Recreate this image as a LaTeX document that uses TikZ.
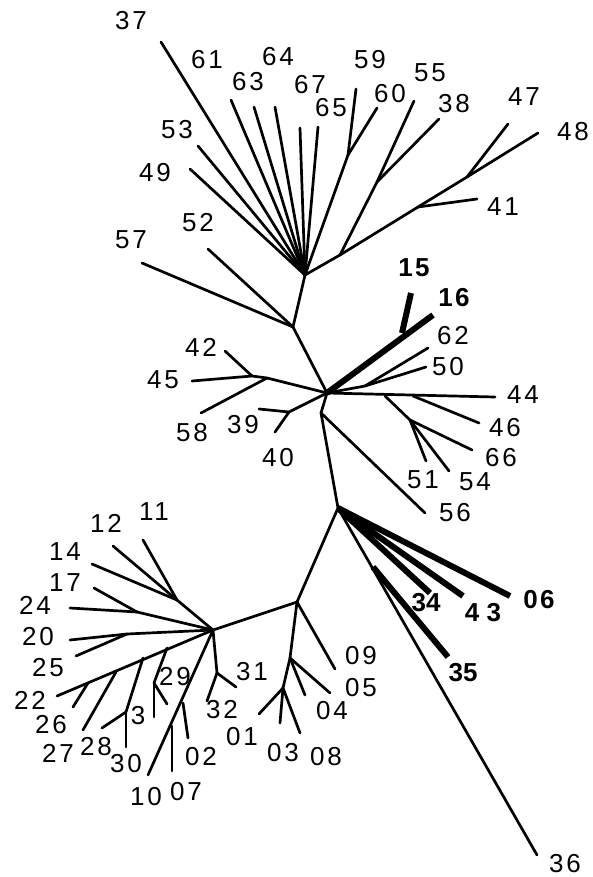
\documentclass[tikz,border=0pt]{standalone}
\usepackage{fontspec}
\setmainfont{Liberation Sans}
\newfontfamily\labfont[LetterSpace=11]{Liberation Sans}
\newfontfamily\labfontb[LetterSpace=9]{Liberation Sans Bold}
\newfontfamily\labfontbt{Liberation Sans Bold}
\begin{document}
\begin{tikzpicture}[x=1pt,y=-1pt,
  br/.style={line width=2.7pt,line cap=round,line join=round},
  thk/.style={line width=6pt,line join=round},
  lab/.style={font=\labfont\fontsize{26}{26}\selectfont,inner sep=0pt},
  labb/.style={font=\labfontb\fontsize{26}{26}\selectfont,inner sep=0pt},
  labbt/.style={font=\labfontbt\fontsize{26}{26}\selectfont,inner sep=0pt}]
\useasboundingbox[fill=white] (0,0) rectangle (592,877);
% ---------- coordinates ----------
\coordinate (H1) at (305,275);
\coordinate (l37) at (161,42);
\coordinate (l61) at (231,100);
\coordinate (l63) at (254,107);
\coordinate (l64) at (275,107);
\coordinate (l67) at (300,128);
\coordinate (l65) at (318,127);
\coordinate (l53) at (198,146);
\coordinate (l49) at (190,169);
\coordinate (n5960) at (348,155);
\coordinate (l59) at (356,89);
\coordinate (l60) at (377,108);
\coordinate (A) at (340,255);
\coordinate (n5538) at (377,182);
\coordinate (l55) at (414,101);
\coordinate (l38) at (439,119);
\coordinate (B) at (418,207);
\coordinate (l41) at (477,199);
\coordinate (C) at (467,177);
\coordinate (l47) at (508,124);
\coordinate (l48) at (538,133);
\coordinate (N2) at (293,327);
\coordinate (l57) at (142,263);
\coordinate (l52) at (208,249);
\coordinate (H2) at (327,393);
\coordinate (P) at (267,378);
\coordinate (l58) at (201,413);
\coordinate (Q) at (252,376);
\coordinate (l45) at (192,381);
\coordinate (l42) at (225,351);
\coordinate (n3940) at (289,412);
\coordinate (l39) at (259,409);
\coordinate (l40) at (275,432);
\coordinate (n1516) at (402,333);
\coordinate (l15) at (411,293);
\coordinate (l16) at (433,315);
\coordinate (n6250) at (365,386);
\coordinate (l62) at (428,348);
\coordinate (l50) at (426,367);
\coordinate (l44) at (495,397);
\coordinate (n44a) at (385,396);
\coordinate (n46) at (413,396);
\coordinate (l46) at (479,423);
\coordinate (D) at (410,420);
\coordinate (l66) at (472,450);
\coordinate (l51) at (426,461);
\coordinate (l54) at (449,471);
\coordinate (T) at (321,413);
\coordinate (l56) at (425,513);
\coordinate (H3) at (338,508);
\coordinate (l06) at (510,596);
\coordinate (l43) at (463,596);
\coordinate (l34) at (430,593);
\coordinate (l36) at (537,855);
\coordinate (n35) at (373,567);
\coordinate (l35) at (448,657);
\coordinate (E) at (297,602);
\coordinate (F) at (290,658);
\coordinate (l04) at (305,695);
\coordinate (l05) at (330,693);
\coordinate (G) at (283,688);
\coordinate (l01) at (259,714);
\coordinate (l03) at (280,723);
\coordinate (l08) at (300,733);
\coordinate (l09) at (335,669);
\coordinate (H4) at (213,630);
\coordinate (n11) at (177,600);
\coordinate (l11) at (143,540);
\coordinate (l12) at (113,546);
\coordinate (l14) at (92,564);
\coordinate (K) at (137,612);
\coordinate (l17) at (94,588);
\coordinate (l24) at (70,608);
\coordinate (L) at (127,634);
\coordinate (l20) at (70,640);
\coordinate (l25) at (76,656);
\coordinate (l22) at (57,696);
\coordinate (n26) at (88,683);
\coordinate (l26) at (73,707);
\coordinate (n27) at (116,672);
\coordinate (l27) at (83,730);
\coordinate (n28) at (143,658);
\coordinate (M) at (126,712);
\coordinate (l28) at (102,728);
\coordinate (l30) at (126,747);
\coordinate (n29) at (167,648);
\coordinate (N29) at (154,683);
\coordinate (l29a) at (154,717);
\coordinate (l29b) at (167,704);
\coordinate (l10) at (148,775);
\coordinate (n02) at (183,703);
\coordinate (l02) at (188,738);
\coordinate (n07) at (172,726);
\coordinate (l07) at (172,771);
\coordinate (n3132) at (217,673);
\coordinate (l31) at (236,687);
\coordinate (l32) at (207,701);
% ---------- branches ----------
\draw[br] (H1) -- (l37);
\draw[br] (H1) -- (l61);
\draw[br] (H1) -- (l63);
\draw[br] (H1) -- (l64);
\draw[br] (H1) -- (l67);
\draw[br] (H1) -- (l65);
\draw[br] (H1) -- (l53);
\draw[br] (H1) -- (l49);
\draw[br] (H1) -- (n5960);
\draw[br] (n5960) -- (l59);
\draw[br] (n5960) -- (l60);
\draw[br] (H1) -- (A) -- (B);
\draw[br] (A) -- (n5538);
\draw[br] (n5538) -- (l55);
\draw[br] (n5538) -- (l38);
\draw[br] (B) -- (l41);
\draw[br] (B) -- (C);
\draw[br] (C) -- (l47);
\draw[br] (C) -- (l48);
\draw[br] (H1) -- (N2);
\draw[br] (N2) -- (l57);
\draw[br] (N2) -- (l52);
\draw[br] (N2) -- (H2);
\draw[br] (H2) -- (P);
\draw[br] (P) -- (l58);
\draw[br] (P) -- (Q);
\draw[br] (Q) -- (l45);
\draw[br] (Q) -- (l42);
\draw[br] (H2) -- (n3940);
\draw[br] (n3940) -- (l39);
\draw[br] (n3940) -- (l40);
\draw[thk] (H2) -- (l16);
\draw[thk] (n1516) -- (l15);
\draw[br] (H2) -- (n6250);
\draw[br] (n6250) -- (l62);
\draw[br] (n6250) -- (l50);
\draw[br] (H2) -- (l44);
\draw[br] (n46) -- (l46);
\draw[br] (n44a) -- (D);
\draw[br] (D) -- (l66);
\draw[br] (D) -- (l51);
\draw[br] (D) -- (l54);
\draw[br] (H2) -- (T);
\draw[br] (T) -- (l56);
\draw[br] (T) -- (H3);
\draw[thk] (H3) -- (l06);
\draw[thk] (H3) -- (l43);
\draw[thk] (H3) -- (l34);
\draw[br] (H3) -- (l36);
\draw[thk] (n35) -- (l35);
\draw[br] (H3) -- (E);
\draw[br] (E) -- (l09);
\draw[br] (E) -- (F);
\draw[br] (F) -- (l04);
\draw[br] (F) -- (l05);
\draw[br] (F) -- (G);
\draw[br] (G) -- (l01);
\draw[br] (G) -- (l03);
\draw[br] (G) -- (l08);
\draw[br] (E) -- (H4);
\draw[br] (H4) -- (n11);
\draw[br] (n11) -- (l11);
\draw[br] (n11) -- (l12);
\draw[br] (n11) -- (l14);
\draw[br] (H4) -- (K);
\draw[br] (K) -- (l17);
\draw[br] (K) -- (l24);
\draw[br] (H4) -- (L);
\draw[br] (L) -- (l20);
\draw[br] (L) -- (l25);
\draw[br] (H4) -- (l22);
\draw[br] (n26) -- (l26);
\draw[br] (n27) -- (l27);
\draw[br] (n28) -- (M);
\draw[br] (M) -- (l28);
\draw[br] (M) -- (l30);
\draw[br] (n29) -- (N29);
\draw[br] (N29) -- (l29a);
\draw[br] (N29) -- (l29b);
\draw[br] (H4) -- (l10);
\draw[br] (n02) -- (l02);
\draw[br] (n07) -- (l07);
\draw[br] (H4) -- (n3132);
\draw[br] (n3132) -- (l31);
\draw[br] (n3132) -- (l32);
% ---------- labels ----------
\node[lab] (t37) at (131,21) {37};
\node[lab] (t61) at (207,60) {61};
\node[lab] (t64) at (278,57) {64};
\node[lab] (t63) at (248,82) {63};
\node[lab] (t67) at (310,85) {67};
\node[lab] (t65) at (331,108) {65};
\node[lab] (t59) at (370,60) {59};
\node[lab] (t55) at (430,73) {55};
\node[lab] (t60) at (390,94) {60};
\node[lab] (t38) at (454,104) {38};
\node[lab] (t47) at (524,97) {47};
\node[lab] (t48) at (573,132) {48};
\node[lab] (t41) at (503,207) {41};
\node[lab] (t53) at (177,130) {53};
\node[lab] (t49) at (155,173) {49};
\node[lab] (t52) at (198,223) {52};
\node[lab] (t57) at (131,240) {57};
\node[labb] (t15) at (414,268) {15};
\node[labb] (t16) at (454,298) {16};
\node[lab] (t62) at (453,336) {62};
\node[lab] (t50) at (448,367) {50};
\node[lab] (t44) at (523,395) {44};
\node[lab] (t46) at (505,428) {46};
\node[lab] (t66) at (501,458) {66};
\node[lab] (t51) at (423,480) {51};
\node[lab] (t54) at (475,482) {54};
\node[lab] (t56) at (455,513) {56};
\node[lab] (t42) at (201,347) {42};
\node[lab] (t45) at (163,380) {45};
\node[lab] (t58) at (192,433) {58};
\node[lab] (t39) at (243,425) {39};
\node[lab] (t40) at (278,458) {40};
\node[labb] (t06) at (539,600) {06};
\node[labbt] (t43) at (483,613) {4 3};
\node[labbt] (t34) at (426,603) {34};
\node[labbt] (t35) at (463,673) {35};
\node[lab] (t36) at (565,864) {36};
\node[lab] (t09) at (361,656) {09};
\node[lab] (t05) at (361,688) {05};
\node[lab] (t04) at (332,711) {04};
\node[lab] (t01) at (242,737) {01};
\node[lab] (t03) at (283,753) {03};
\node[lab] (t08) at (326,757) {08};
\node[lab] (t31) at (252,672) {31};
\node[lab] (t32) at (222,710) {32};
\node[lab] (t02) at (201,757) {02};
\node[lab] (t07) at (186,792) {07};
\node[lab] (t10) at (146,797) {10};
\node[lab] (t29) at (175,677) {29};
\node[lab] (t3) at (138,716) {3};
\node[lab] (t30) at (126,764) {30};
\node[lab] (t28) at (96,747) {28};
\node[lab] (t27) at (58,753) {27};
\node[lab] (t26) at (51,725) {26};
\node[lab] (t22) at (30,700) {22};
\node[lab] (t25) at (48,668) {25};
\node[lab] (t20) at (38,637) {20};
\node[lab] (t24) at (35,605) {24};
\node[lab] (t17) at (65,583) {17};
\node[lab] (t14) at (65,552) {14};
\node[lab] (t12) at (106,523) {12};
\node[lab] (t11) at (154,512) {11};
\end{tikzpicture}
\end{document}
